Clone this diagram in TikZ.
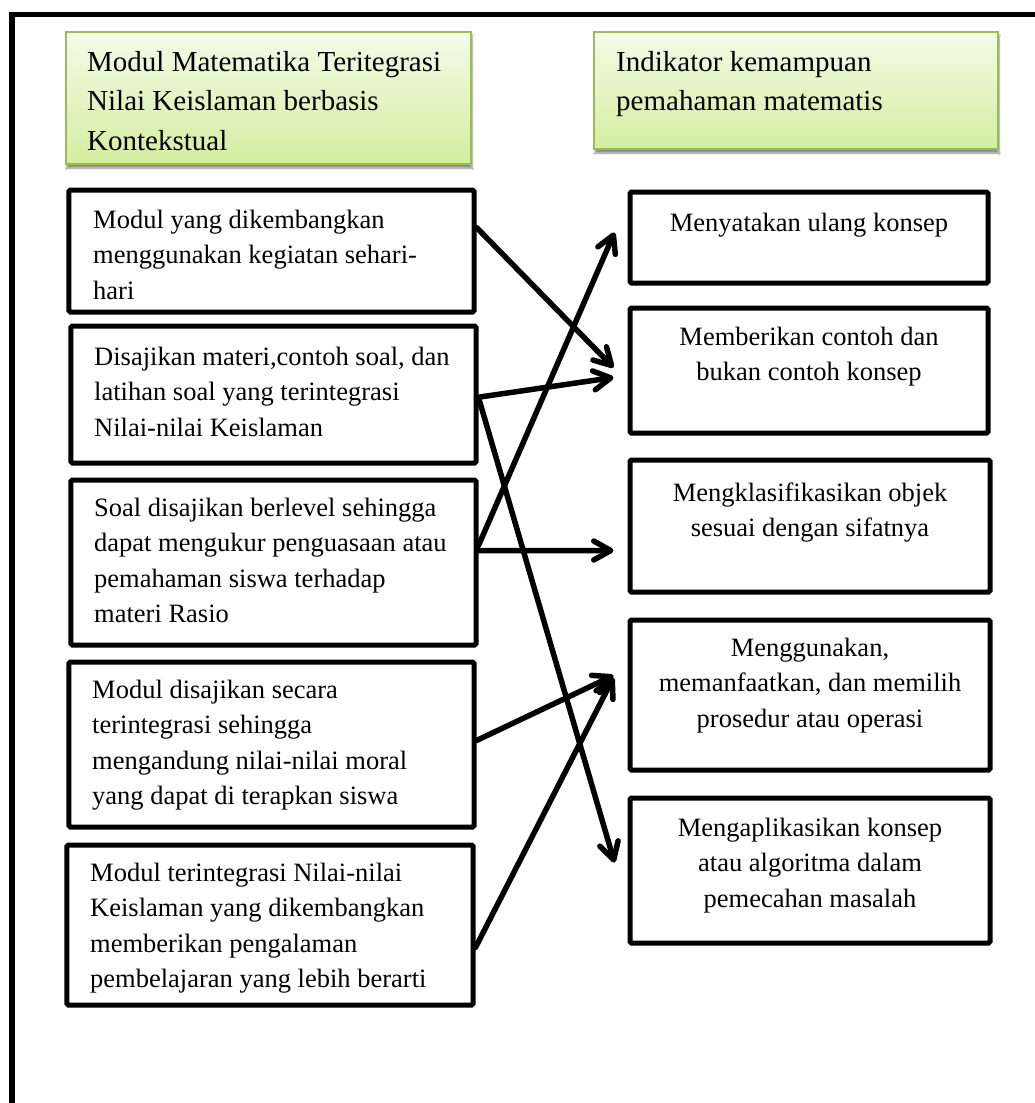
\documentclass[tikz,border=0pt]{standalone}
\usepackage{fontspec}
\setmainfont{Liberation Serif}
\usetikzlibrary{arrows.meta,calc,shadows.blur}
\definecolor{gtop}{HTML}{F4FBE8}
\definecolor{gbot}{HTML}{D3EEA0}
\definecolor{gborder}{HTML}{9BBB59}
\begin{document}
\begin{tikzpicture}[x=1bp,y=-1bp,
  box/.style={draw=black,line width=5bp,rounded corners=1.5bp,inner sep=0pt,fill=white},
  gbox/.style={draw=gborder,line width=1.3bp,top color=gtop,bottom color=gbot,inner sep=0pt,
    blur shadow={shadow xshift=1bp,shadow yshift=-4bp,shadow blur steps=6,shadow opacity=45}},
  ltxt/.style={anchor=north west,align=left,inner sep=0pt,font=\fontsize{26.5bp}{35.5bp}\selectfont},
  ctxt/.style={anchor=north,align=center,inner sep=0pt,font=\fontsize{26.5bp}{35.5bp}\selectfont},
  gtxt/.style={anchor=north west,align=left,inner sep=0pt,font=\fontsize{29bp}{39.5bp}\selectfont},
  link/.style={line width=5.5bp,line cap=round,line join=round,
    -{Straight Barb[length=17bp,width=19bp,line cap=round,line join=round]}}
]
\fill[white] (0,0) rectangle (1035,1103);
\path[use as bounding box] (0,0) rectangle (1035,1103);

% outer frame
\draw[line width=5.5bp] (1035,14.5) -- (12,14.5) -- (12,1103);

% header boxes
\node[gbox,minimum width=405bp,minimum height=132bp] (g1) at (268.5,98) {};
\node[gbox,minimum width=404bp,minimum height=117bp] (g2) at (796,90.5) {};
\node[gtxt] (g1t) at (87,49) {\rule{0pt}{22bp}Modul Matematika Teritegrasi\\Nilai Keislaman berbasis\\Kontekstual};
\node[gtxt] (g2t) at (616,49) {\rule{0pt}{22bp}Indikator kemampuan\\pemahaman matematis};

% left boxes
\node[box,minimum width=405bp,minimum height=122bp] (l1) at (271.5,251) {};
\node[box,minimum width=405bp,minimum height=137bp] (l2) at (273.5,394.5) {};
\node[box,minimum width=405bp,minimum height=165bp] (l3) at (273.5,562.5) {};
\node[box,minimum width=405bp,minimum height=165bp] (l4) at (271.5,744.5) {};
\node[box,minimum width=406bp,minimum height=160bp] (l5) at (270,925) {};

\node[ltxt] (l1t) at (93,208) {\rule{0pt}{20bp}Modul yang dikembangkan\\menggunakan kegiatan sehari-\\hari};
\node[ltxt] (l2t) at (94,345) {\rule{0pt}{20bp}Disajikan materi,contoh soal, dan\\latihan soal yang terintegrasi\\Nilai-nilai Keislaman};
\node[ltxt] (l3t) at (94,496) {\rule{0pt}{20bp}Soal disajikan berlevel sehingga\\dapat mengukur penguasaan atau\\pemahaman siswa terhadap\\materi Rasio};
\node[ltxt] (l4t) at (92,678) {\rule{0pt}{20bp}Modul disajikan secara\\terintegrasi sehingga\\mengandung nilai-nilai moral\\yang dapat di terapkan siswa};
\node[ltxt] (l5t) at (90,861) {\rule{0pt}{20bp}Modul terintegrasi Nilai-nilai\\Keislaman yang dikembangkan\\memberikan pengalaman\\pembelajaran yang lebih berarti};

% right boxes
\node[box,minimum width=358bp,minimum height=91bp] (r1) at (809,237.5) {};
\node[box,minimum width=358bp,minimum height=125bp] (r2) at (809,370.5) {};
\node[box,minimum width=360bp,minimum height=132bp] (r3) at (810,526) {};
\node[box,minimum width=360bp,minimum height=150bp] (r4) at (810,695) {};
\node[box,minimum width=360bp,minimum height=145bp] (r5) at (810,870.5) {};

\node[ctxt] (r1t) at (809,211) {\rule{0pt}{20bp}Menyatakan ulang konsep};
\node[ctxt] (r2t) at (809,325) {\rule{0pt}{20bp}Memberikan contoh dan\\bukan contoh konsep};
\node[ctxt] (r3t) at (810,481) {\rule{0pt}{20bp}Mengklasifikasikan objek\\sesuai dengan sifatnya};
\node[ctxt] (r4t) at (810,636) {\rule{0pt}{20bp}Menggunakan,\\memanfaatkan, dan memilih\\prosedur atau operasi};
\node[ctxt] (r5t) at (810,816) {\rule{0pt}{20bp}Mengaplikasikan konsep\\atau algoritma dalam\\pemecahan masalah};

% connectors
\draw[link] ($(l1.north east)+(0,40)$) -- ($(r2.north west)+(-14,62)$);
\draw[link] ($(l2.north east)+(-2,74)$) -- ($(r2.north west)+(-14,72)$);
\draw[link] ($(l3.north east)+(0,68)$) -- ($(r1.north west)+(-13,43)$);
\draw[link] ($(l3.north east)+(0,73)$) -- ($(r3.north west)+(-14,93)$);
\draw[link] ($(l2.north east)+(0,74)$) -- ($(r5.north west)+(-13,67)$);
\draw[link] ($(l4.north east)+(0,81)$) -- ($(r4.north west)+(-14,58)$);
\draw[link] ($(l5.north east)+(0,105)$) -- ($(r4.north west)+(-14,60)$);
\end{tikzpicture}
\end{document}
